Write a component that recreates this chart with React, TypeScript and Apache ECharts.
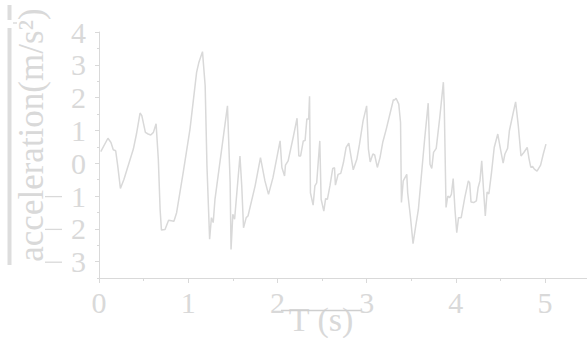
import React, { useEffect, useRef } from "react";
import * as echarts from "echarts";

const timeS = [
  0.02, 0.1, 0.134, 0.16, 0.187, 0.21, 0.24, 0.28, 0.385, 0.42, 0.46, 0.48, 0.52, 0.55, 0.58, 0.61, 0.64,
  0.665, 0.685, 0.7, 0.74, 0.78, 0.84, 0.87, 0.944, 1.02, 1.094, 1.12, 1.16, 1.19, 1.21, 1.24, 1.26, 1.28,
  1.3, 1.35, 1.44, 1.47, 1.48, 1.5, 1.52, 1.58, 1.6, 1.62, 1.65, 1.67, 1.75, 1.81, 1.86, 1.9, 1.95, 2.03,
  2.05, 2.08, 2.09, 2.12, 2.18, 2.22, 2.24, 2.26, 2.29, 2.31, 2.33, 2.35, 2.36, 2.37, 2.4, 2.42, 2.44,
  2.475, 2.49, 2.52, 2.54, 2.56, 2.59, 2.62, 2.64, 2.65, 2.68, 2.71, 2.74, 2.77, 2.8, 2.85, 2.89, 2.92,
  2.96, 3.0, 3.02, 3.04, 3.07, 3.09, 3.12, 3.15, 3.18, 3.22, 3.27, 3.3, 3.31, 3.33, 3.36, 3.38, 3.39,
  3.41, 3.45, 3.46, 3.49, 3.52, 3.55, 3.58, 3.61, 3.65, 3.69, 3.71, 3.73, 3.75, 3.78, 3.82, 3.86, 3.87,
  3.89, 3.91, 3.93, 3.95, 3.97, 3.99, 4.01, 4.03, 4.06, 4.1, 4.14, 4.155, 4.17, 4.2, 4.23, 4.25, 4.27,
  4.29, 4.31, 4.33, 4.35, 4.37, 4.4, 4.43, 4.47, 4.5, 4.53, 4.55, 4.58, 4.6, 4.64, 4.67, 4.7, 4.73, 4.76,
  4.8, 4.82, 4.84, 4.86, 4.88, 4.91, 4.95, 4.98, 5.01,
];

const accel = [
  0.35, 0.76, 0.63, 0.41, 0.38, -0.08, -0.77, -0.49, 0.43, 0.89, 1.53, 1.45, 0.94, 0.89, 0.86, 0.94, 1.2,
  0.12, -1.41, -2.04, -2.02, -1.74, -1.77, -1.51, -0.28, 1.04, 2.77, 3.08, 3.4, 2.36, -0.08, -2.32, -1.66,
  -1.81, -1.1, -0.08, 1.75, -0.59, -2.63, -1.56, -1.71, 0.22, -0.69, -1.97, -1.66, -1.61, -0.69, 0.17,
  -0.54, -0.95, -0.44, 0.68, -0.13, -0.39, -0.06, 0.07, 0.83, 1.37, 0.22, 0.22, 0.68, 0.69, 1.35, 1.35,
  2.04, -0.9, -1.28, -0.69, -0.6, 0.68, -1.1, -1.46, -1.08, -1.1, -0.67, -0.16, -0.14, -0.67, -0.34, -0.31,
  0.02, 0.48, 0.61, -0.2, 0.12, 0.58, 1.29, 1.75, 0.43, 0.04, 0.28, 0.25, -0.13, 0.17, 0.63, 1.04, 1.6,
  1.94, 1.92, 1.98, 1.8, 1.24, -1.2, -0.54, -0.34, -0.9, -1.61, -2.45, -1.92, -1.41, -0.49, 0.73, 1.83,
  -0.03, -0.16, 0.33, 0.45, 1.4, 2.47, 1.75, -1.35, -1.0, -1.05, -0.95, -0.47, -1.41, -2.12, -1.66, -1.66,
  -1.05, -0.54, -0.6, -1.18, -1.2, -1.15, -0.74, -0.54, 0.07, -0.8, -1.61, -0.88, -0.94, -0.28, 0.48, 0.89,
  0.43, 0.0, 0.28, 0.45, 0.99, 1.5, 1.87, 1.14, 0.22, 0.32, 0.48, 0.14, -0.13, -0.1, -0.18, -0.24, -0.06,
  0.28, 0.58,
];

const xMajorTicks = [0, 1, 2, 3, 4, 5];
const xMinorTicks = [0.5, 1.5, 2.5, 3.5, 4.5];
const yMajorTicks = [-3, -2, -1, 0, 1, 2, 3, 4];
const yMinorTicks = [-3.5, -2.5, -1.5, -0.5, 0.5, 1.5, 2.5, 3.5];
const xRange = [0, 5.47];
const yRange = [-3.5, 4];
const yTitle = "acceleration(m/s\u00B2)";
const xTitle = "T (s)";

const GRAY = "#d9d9d9";
const FONT = "'Liberation Serif', 'Times New Roman', serif";

export default function App() {
  const ref = useRef<HTMLDivElement>(null);

  useEffect(() => {
    if (!ref.current) return;
    const chart = echarts.init(ref.current, null, { renderer: "svg" });
    const gridBox = { left: 99, right: 0, top: 32, bottom: 60 };
    const data = timeS.map((t, i) => [t, accel[i]]);

    const minusLines = [-1, -2, -3].map((v) => {
      const y = 163.3 - v * 32.8 + 0.5;
      return {
        type: "line",
        shape: { x1: 45, y1: y, x2: 62, y2: y },
        style: { stroke: GRAY, lineWidth: 1.3 },
      };
    });

    chart.setOption({
      animation: false,
      backgroundColor: "#ffffff",
      grid: [{ ...gridBox }, { ...gridBox }],
      xAxis: [
        {
          type: "value",
          gridIndex: 0,
          position: "bottom",
          min: xRange[0],
          max: xRange[1],
          splitLine: { show: false },
          axisLine: { show: true, onZero: false, lineStyle: { color: GRAY, width: 1 } },
          axisTick: { show: true, customValues: xMajorTicks, length: 5, lineStyle: { color: GRAY } },
          axisLabel: {
            customValues: xMajorTicks,
            color: GRAY,
            fontFamily: FONT,
            fontSize: 30,
            margin: 9,
          },
        },
        {
          type: "value",
          gridIndex: 1,
          position: "bottom",
          min: xRange[0],
          max: xRange[1],
          splitLine: { show: false },
          axisLine: { show: false, onZero: false },
          axisTick: { show: true, customValues: xMinorTicks, length: 3, lineStyle: { color: GRAY } },
          axisLabel: { show: false },
        },
      ],
      yAxis: [
        {
          type: "value",
          gridIndex: 0,
          position: "left",
          min: yRange[0],
          max: yRange[1],
          splitLine: { show: false },
          axisLine: { show: true, onZero: false, lineStyle: { color: GRAY, width: 1 } },
          axisTick: { show: true, customValues: yMajorTicks, length: 4, lineStyle: { color: GRAY } },
          axisLabel: {
            customValues: yMajorTicks,
            formatter: (v: number) => String(Math.abs(v)),
            color: GRAY,
            fontFamily: FONT,
            fontSize: 30,
            margin: 13,
            padding: [5, 0, 0, 0],
          },
        },
        {
          type: "value",
          gridIndex: 1,
          position: "left",
          min: yRange[0],
          max: yRange[1],
          splitLine: { show: false },
          axisLine: { show: false, onZero: false },
          axisTick: { show: true, customValues: yMinorTicks, length: 2, lineStyle: { color: GRAY } },
          axisLabel: { show: false },
        },
      ],
      series: [
        {
          type: "line",
          xAxisIndex: 0,
          yAxisIndex: 0,
          data,
          showSymbol: false,
          symbol: "none",
          lineStyle: { color: GRAY, width: 1.5 },
          silent: true,
        },
      ],
      graphic: [
        {
          type: "text",
          x: 31,
          y: 135,
          rotation: Math.PI / 2,
          style: {
            text: yTitle,
            fill: GRAY,
            font: `35px ${FONT}`,
            align: "center",
            verticalAlign: "middle",
          },
        },
        {
          type: "text",
          x: 321,
          y: 319,
          style: {
            text: xTitle,
            fill: GRAY,
            font: `34px ${FONT}`,
            align: "center",
            verticalAlign: "middle",
          },
        },
        {
          type: "line",
          shape: { x1: 281, y1: 310.5, x2: 362, y2: 310.5 },
          style: { stroke: "#cfcfcf", lineWidth: 1.5 },
        },
        { type: "rect", shape: { x: 7.5, y: 28, width: 4, height: 237 }, style: { fill: "#dddddd" } },
        { type: "rect", shape: { x: 7.5, y: 5, width: 4, height: 15 }, style: { fill: "#dddddd" } },
        {
          type: "line",
          shape: { x1: 13, y1: 23, x2: 17, y2: 23 },
          style: { stroke: "#dddddd", lineWidth: 1.5 },
        },
        ...minusLines,
      ],
    });

    return () => chart.dispose();
  }, []);

  return (
    <div
      ref={ref}
      style={{ position: "fixed", left: 0, top: 0, width: 587, height: 338, background: "#fff" }}
    />
  );
}
